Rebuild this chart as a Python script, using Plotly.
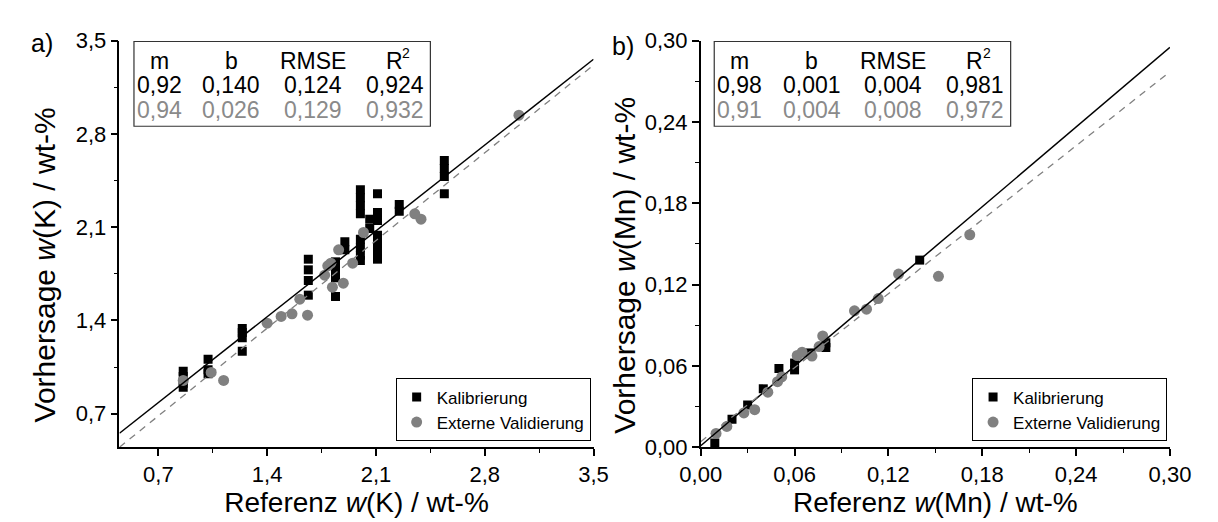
import plotly.graph_objects as go

# ---------------- data: panel a (K) ----------------
k_cal_x = [0.86, 0.86, 0.86, 0.86, 1.02, 1.02, 1.02, 1.24, 1.24, 1.24, 1.24,
           1.665, 1.665, 1.665, 1.665, 1.84, 1.84, 1.84, 1.84, 1.90, 1.90,
           2.00, 2.00, 2.00, 2.00, 2.00, 2.00, 2.00, 2.00, 2.06, 2.06,
           2.11, 2.11, 2.11, 2.11, 2.11, 2.11, 2.11, 2.25, 2.25,
           2.54, 2.54, 2.54, 2.54]
k_cal_y = [1.02, 0.98, 0.93, 0.90, 1.11, 1.03, 1.00, 1.34, 1.31, 1.27, 1.17,
           1.86, 1.78, 1.70, 1.59, 1.84, 1.78, 1.72, 1.58, 1.99, 1.93,
           2.38, 2.32, 2.26, 2.20, 2.01, 1.95, 1.89, 1.85, 2.16, 2.09,
           2.35, 2.21, 2.15, 2.04, 1.98, 1.92, 1.86, 2.27, 2.22,
           2.60, 2.54, 2.48, 2.35]
k_val_x = [0.86, 1.04, 1.12, 1.40, 1.49, 1.56, 1.61, 1.66, 1.77, 1.79, 1.81,
           1.86, 1.82, 1.89, 1.95, 2.02, 2.35, 2.39, 3.02]
k_val_y = [0.95, 1.01, 0.95, 1.38, 1.43, 1.45, 1.56, 1.44, 1.74, 1.81, 1.83,
           1.93, 1.65, 1.68, 1.83, 2.06, 2.20, 2.16, 2.94]
k_fit = {"cal": (0.92, 0.140), "val": (0.94, 0.026)}
k_table = [["m", "b", "RMSE", "R"],
           ["0,92", "0,140", "0,124", "0,924"],
           ["0,94", "0,026", "0,129", "0,932"]]
k_xtitle = "Referenz <i>w</i>(K) / wt-%"
k_ytitle = "Vorhersage <i>w</i>(K) / wt-%"

# ---------------- data: panel b (Mn) ----------------
mn_cal_x = [0.009, 0.020, 0.030, 0.040, 0.050, 0.060, 0.060, 0.070, 0.080, 0.080, 0.140]
mn_cal_y = [0.003, 0.0205, 0.031, 0.043, 0.058, 0.062, 0.057, 0.0695, 0.0735, 0.077, 0.138]
mn_val_x = [0.0098, 0.0167, 0.0276, 0.0345, 0.0429, 0.0491, 0.0518, 0.0617, 0.0648,
            0.0711, 0.0757, 0.078, 0.0983, 0.106, 0.1135, 0.1265, 0.152, 0.172]
mn_val_y = [0.0101, 0.0153, 0.0252, 0.0276, 0.0405, 0.0483, 0.0518, 0.0676, 0.070,
            0.0672, 0.0742, 0.082, 0.1006, 0.1018, 0.1096, 0.1277, 0.126, 0.1567]
mn_fit = {"cal": (0.98, 0.001), "val": (0.91, 0.004)}
mn_table = [["m", "b", "RMSE", "R"],
            ["0,98", "0,001", "0,004", "0,981"],
            ["0,91", "0,004", "0,008", "0,972"]]
mn_xtitle = "Referenz <i>w</i>(Mn) / wt-%"
mn_ytitle = "Vorhersage <i>w</i>(Mn) / wt-%"

k_range = [0.45, 3.5]
mn_range = [0.0, 0.30]

W, H = 1218, 522
FONT = "Liberation Sans, Arial, sans-serif"
GRAY = "#808080"
TGRAY = "#8a8a8a"

# layout geometry (pixels)
A_L, A_R = 102, 593
B_L, B_R = 704, 1190
P_T, P_B = 30, 457

def px(x):
    return x / W

def py(y):
    return 1 - y / H

fig = go.Figure()

def add_panel(xa, ya, leg, cx, cy, vx, vy, fit, rng):
    fig.add_trace(go.Scatter(x=cx, y=cy, mode="markers", name="Kalibrierung",
                             marker=dict(symbol="square", size=9, color="black"),
                             xaxis=xa, yaxis=ya, legend=leg))
    fig.add_trace(go.Scatter(x=vx, y=vy, mode="markers", name="Externe Validierung",
                             marker=dict(symbol="circle", size=11, color=GRAY),
                             xaxis=xa, yaxis=ya, legend=leg))
    for key, col, dash, w in [("cal", "black", "solid", 1.5), ("val", GRAY, "7px,6px", 1.3)]:
        m, b = fit[key]
        fig.add_trace(go.Scatter(x=rng, y=[m * v + b for v in rng], mode="lines",
                                 line=dict(color=col, width=w, dash=dash),
                                 showlegend=False, hoverinfo="skip", xaxis=xa, yaxis=ya))

add_panel("x", "y", "legend", k_cal_x, k_cal_y, k_val_x, k_val_y, k_fit, k_range)
add_panel("x2", "y2", "legend2", mn_cal_x, mn_cal_y, mn_val_x, mn_val_y, mn_fit, mn_range)

ydom = [py(P_B), py(P_T)]
axis_common = dict(showline=True, linecolor="black", linewidth=1.5, ticks="outside",
                   ticklen=7, tickwidth=1.5, tickcolor="black", showgrid=False,
                   zeroline=False, mirror=False,
                   tickfont=dict(family=FONT, size=22, color="black"),
                   title_font=dict(family=FONT, size=28, color="black"))
minor_a = dict(ticks="outside", ticklen=4, tickwidth=1.2, tickcolor="black", dtick=0.35, tick0=0.35)
minor_b = dict(ticks="outside", ticklen=4, tickwidth=1.2, tickcolor="black", dtick=0.03, tick0=0)

legend_common = dict(xanchor="right", yanchor="bottom", bordercolor="black", borderwidth=1,
                     bgcolor="white", font=dict(family=FONT, size=17, color="black"),
                     tracegroupgap=0, itemsizing="trace")

fig.update_layout(
    width=W, height=H, margin=dict(l=0, r=0, t=0, b=0),
    paper_bgcolor="white", plot_bgcolor="white", separators=", ",
    font=dict(family=FONT, color="black"),
    xaxis=dict(domain=[px(A_L), px(A_R)], range=[k_range[0], k_range[1] + 1e-4],
               tick0=0.7, dtick=0.7, tickformat=".1f", anchor="y", minor=minor_a,
               title=dict(text=k_xtitle, standoff=0), **axis_common),
    yaxis=dict(domain=ydom, range=[k_range[0], k_range[1] + 1e-4],
               tick0=0.7, dtick=0.7, tickformat=".1f", anchor="x", minor=minor_a,
               **axis_common),
    xaxis2=dict(domain=[px(B_L), px(B_R)], range=[mn_range[0], mn_range[1] + 1e-5],
                tick0=0, dtick=0.06, tickformat=".2f", anchor="y2", minor=minor_b,
                title=dict(text=mn_xtitle, standoff=0), **axis_common),
    yaxis2=dict(domain=ydom, range=[mn_range[0], mn_range[1] + 1e-5],
                tick0=0, dtick=0.06, tickformat=".2f", anchor="x2", minor=minor_b,
                **axis_common),
    legend=dict(x=px(A_R - 3), y=py(P_B - 6), **legend_common),
    legend2=dict(x=px(B_R - 3), y=py(P_B - 6), **legend_common),
)

annotations = []
shapes = []

# rotated y-axis titles
for xc, txt in [(24, k_ytitle), (625, mn_ytitle)]:
    annotations.append(dict(text=txt, xref="paper", yref="paper", x=px(xc), y=py(266),
                            xanchor="center", yanchor="middle", textangle=-90, showarrow=False,
                            font=dict(family=FONT, size=30, color="black")))

# tables
col_off = [26, 101, 185, 270]
row_y = [51, 77, 103]
row_col = ["black", "black", TGRAY]
for left, table in [(A_L + 15, k_table), (B_L + 14, mn_table)]:
    shapes.append(dict(type="rect", xref="paper", yref="paper",
                       x0=px(left), x1=px(left + 307), y0=py(120), y1=py(31),
                       line=dict(color="#333333", width=1.2), fillcolor="white", layer="above"))
    for r, row in enumerate(table):
        for c, txt in enumerate(row):
            annotations.append(dict(text=txt, xref="paper", yref="paper",
                                    x=px(left + col_off[c]), y=py(row_y[r]),
                                    xanchor="center", yanchor="middle", showarrow=False,
                                    font=dict(family=FONT, size=23, color=row_col[r])))
    # superscript "2" of the R² header
    annotations.append(dict(text="2", xref="paper", yref="paper",
                            x=px(left + col_off[3] + 6), y=py(row_y[0] - 8),
                            xanchor="left", yanchor="middle", showarrow=False,
                            font=dict(family=FONT, size=14, color="black")))

annotations.append(dict(text="a)", xref="paper", yref="paper", x=px(22), y=py(33),
                        xanchor="center", yanchor="middle", showarrow=False,
                        font=dict(family=FONT, size=25, color="black")))
annotations.append(dict(text="b)", xref="paper", yref="paper", x=px(623), y=py(36),
                        xanchor="center", yanchor="middle", showarrow=False,
                        font=dict(family=FONT, size=25, color="black")))

fig.update_layout(annotations=annotations, shapes=shapes)
fig.write_html("out.html")
